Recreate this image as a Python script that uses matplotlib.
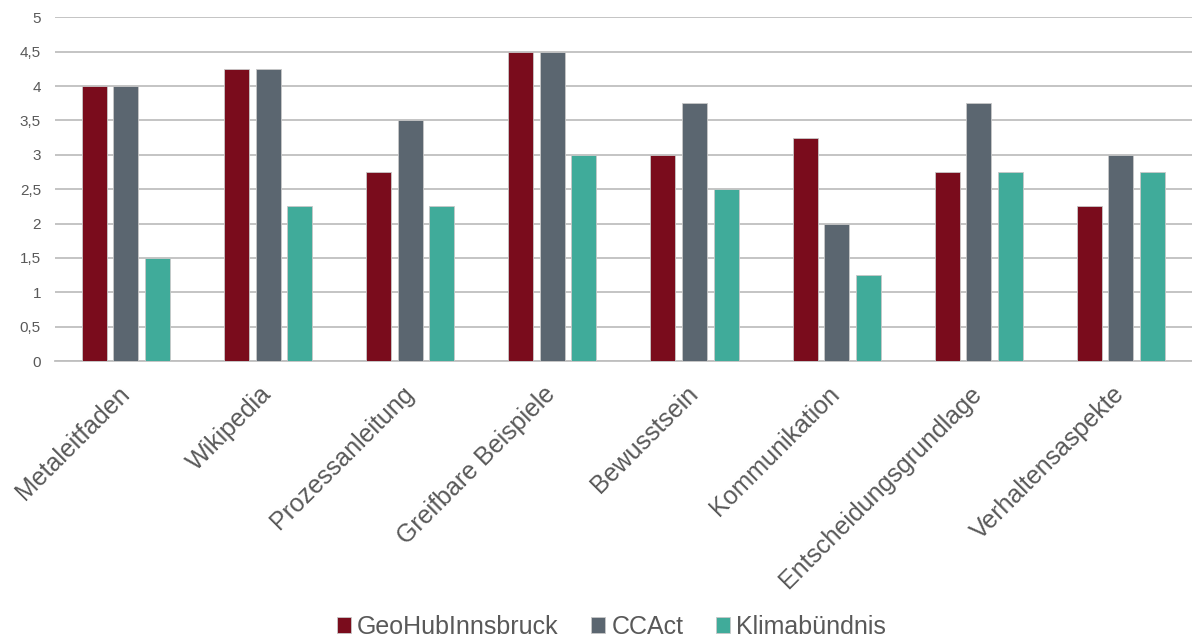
import numpy as np
import matplotlib.pyplot as plt
import matplotlib.transforms as mtransforms
from matplotlib.ticker import MultipleLocator, FuncFormatter

categories = ["Metaleitfaden", "Wikipedia", "Prozessanleitung", "Greifbare Beispiele",
              "Bewusstsein", "Kommunikation", "Entscheidungsgrundlage", "Verhaltensaspekte"]
geohub = [4, 4.25, 2.75, 4.5, 3, 3.25, 2.75, 2.25]
ccact = [4, 4.25, 3.5, 4.5, 3.75, 2, 3.75, 3]
klima = [1.5, 2.25, 2.25, 3, 2.5, 1.25, 2.75, 2.75]

series = [("GeoHubInnsbruck", geohub, "#7A0C1C"),
          ("CCAct", ccact, "#5B6670"),
          ("Klimabündnis", klima, "#40AB9A")]

plt.rcParams['font.family'] = ['Liberation Sans', 'DejaVu Sans']
text_col = "#595959"

fig = plt.figure(figsize=(11.92, 6.39), dpi=100)
ax = fig.add_axes([0.046, 0.435, 0.954, 0.538])

x = np.arange(len(categories))
w = 0.176
step = 0.222
for i, (name, vals, col) in enumerate(series):
    ax.bar(x + (i - 1) * step, vals, w, color=col, edgecolor="#C8C8C8", linewidth=0.6,
           label=name, zorder=3)

ax.set_xlim(-0.5, len(categories) - 0.5)
ax.set_ylim(0, 5)
ax.yaxis.set_major_locator(MultipleLocator(0.5))
ax.yaxis.set_major_formatter(FuncFormatter(lambda v, p: ("%g" % v).replace(".", ",")))
ax.grid(axis="y", color="#BFBFBF", linewidth=1.3, zorder=0)
for s in ["top", "right", "left"]:
    ax.spines[s].set_visible(False)
ax.spines["bottom"].set_color("#BFBFBF")
ax.spines["bottom"].set_linewidth(1.3)
ax.tick_params(axis="y", length=0, pad=10, labelsize=11, labelcolor=text_col)
ax.tick_params(axis="x", length=0, pad=15)

ax.set_xticks(x)
ax.set_xticklabels(categories, rotation=45, ha="right", rotation_mode="anchor",
                   fontsize=18, color=text_col)
# nudge the rotated labels a little to the left
shift = mtransforms.ScaledTranslation(-9 / 100, 0, fig.dpi_scale_trans)
for lbl in ax.get_xticklabels():
    lbl.set_transform(lbl.get_transform() + shift)

leg = fig.legend(loc="lower center", bbox_to_anchor=(0.513, -0.035), ncol=3, frameon=False,
                 fontsize=18, handlelength=0.55, handleheight=0.55, handletextpad=0.25,
                 columnspacing=1.3)
for t in leg.get_texts():
    t.set_color(text_col)

fig.savefig("out.png", dpi=100)
